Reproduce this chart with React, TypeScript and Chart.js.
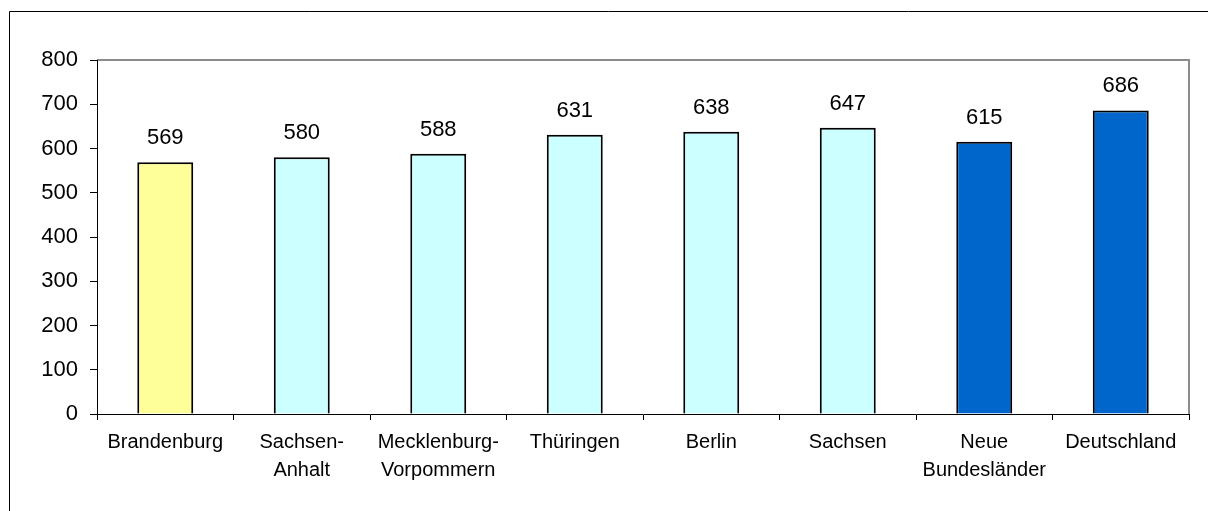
import React, { useEffect, useRef } from "react";
import { Chart, registerables } from "chart.js";

Chart.register(...registerables);

const categories: (string | string[])[] = [
  "Brandenburg",
  ["Sachsen-", "Anhalt"],
  ["Mecklenburg-", "Vorpommern"],
  "Thüringen",
  "Berlin",
  "Sachsen",
  ["Neue", "Bundesländer"],
  "Deutschland",
];
const values: number[] = [569, 580, 588, 631, 638, 647, 615, 686];
const barColors: string[] = [
  "#FFFF99",
  "#CCFFFF",
  "#CCFFFF",
  "#CCFFFF",
  "#CCFFFF",
  "#CCFFFF",
  "#0066CC",
  "#0066CC",
];
const yTicks: number[] = [0, 100, 200, 300, 400, 500, 600, 700, 800];

const FONT = "'Liberation Sans', Arial, sans-serif";

const framePlugin = {
  id: "frame",
  beforeDraw(chart: any) {
    const ctx = chart.ctx;
    ctx.save();
    ctx.fillStyle = "#ffffff";
    ctx.fillRect(0, 0, chart.width, chart.height);
    ctx.strokeStyle = "#000000";
    ctx.lineWidth = 1;
    ctx.beginPath();
    ctx.moveTo(9.5, chart.height);
    ctx.lineTo(9.5, 11.5);
    ctx.lineTo(chart.width, 11.5);
    ctx.stroke();
    const a = chart.chartArea;
    ctx.strokeStyle = "#8c8c8c";
    ctx.lineWidth = 2;
    ctx.beginPath();
    ctx.moveTo(a.left, a.top);
    ctx.lineTo(a.right, a.top);
    ctx.lineTo(a.right, a.bottom);
    ctx.stroke();
    ctx.restore();
  },
  afterDatasetsDraw(chart: any) {
    const ctx = chart.ctx;
    const meta = chart.getDatasetMeta(0);
    ctx.save();
    ctx.fillStyle = "#000000";
    ctx.font = `22px ${FONT}`;
    ctx.textAlign = "center";
    ctx.textBaseline = "alphabetic";
    meta.data.forEach((bar: any, i: number) => {
      ctx.fillText(String(values[i]), bar.x, bar.y - 18);
    });
    ctx.restore();
  },
};

export default function App() {
  const ref = useRef<HTMLCanvasElement>(null);
  useEffect(() => {
    if (!ref.current) return;
    const chart = new Chart(ref.current, {
      type: "bar",
      data: {
        labels: categories as any,
        datasets: [
          {
            data: values,
            backgroundColor: barColors,
            borderColor: "#000000",
            borderWidth: 2,
            barPercentage: 0.41,
            categoryPercentage: 1,
          },
        ],
      },
      options: {
        animation: false,
        responsive: false,
        devicePixelRatio: 1,
        layout: { padding: { top: 60, right: 19, left: 0, bottom: 0 } },
        plugins: { legend: { display: false }, tooltip: { enabled: false } },
        scales: {
          x: {
            grid: {
              drawOnChartArea: false,
              drawTicks: true,
              tickLength: 6,
              color: "#000000",
              offset: true,
            },
            border: { color: "#000000", width: 1 },
            ticks: {
              color: "#000000",
              font: { family: FONT, size: 20, lineHeight: 1.4 },
              padding: 8,
              maxRotation: 0,
              autoSkip: false,
            },
            afterFit(scale: any) {
              scale.height = 97;
            },
          },
          y: {
            min: 0,
            max: 800,
            afterBuildTicks(scale: any) {
              scale.ticks = yTicks.map((v) => ({ value: v }));
            },
            grid: {
              drawOnChartArea: false,
              drawTicks: true,
              tickLength: 7,
              color: "#000000",
            },
            border: { color: "#000000", width: 1 },
            ticks: {
              color: "#000000",
              font: { family: FONT, size: 22 },
              padding: 12,
            },
            afterFit(scale: any) {
              scale.width = 97;
            },
          },
        },
      },
      plugins: [framePlugin],
    });
    return () => chart.destroy();
  }, []);
  return (
    <div style={{ position: "fixed", left: 0, top: 0, width: 1208, height: 511 }}>
      <canvas ref={ref} width={1208} height={511} style={{ display: "block" }} />
    </div>
  );
}
